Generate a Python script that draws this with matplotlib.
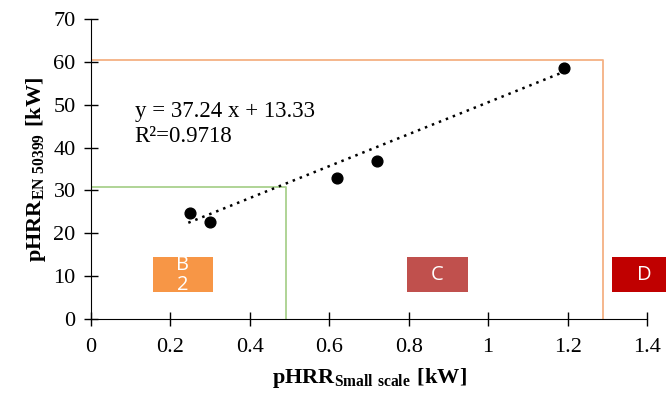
import matplotlib
matplotlib.use("Agg")
import matplotlib.pyplot as plt
from matplotlib.patches import Rectangle
import numpy as np

x_small = [0.25, 0.30, 0.62, 0.72, 1.19]
y_en = [24.8, 22.6, 32.8, 36.8, 58.5]
slope, intercept = 37.24, 13.33
green_limit = (0.49, 30.8)
orange_limit = (1.29, 60.4)
classes = ["B\n2", "C", "D"]
class_x = [0.155, 0.795, 1.312]
class_w = [0.153, 0.155, 0.16]
class_colors = ["#F79646", "#C0504D", "#C00000"]

plt.rcParams['font.family'] = ['Liberation Serif']
plt.rcParams['mathtext.fontset'] = 'custom'
plt.rcParams['mathtext.rm'] = 'Liberation Serif'
plt.rcParams['mathtext.bf'] = 'Liberation Serif:bold'

fig = plt.figure(figsize=(6.66, 3.95), dpi=100)
ax = fig.add_axes([91/666, 1-319/395, (647-91)/666, 300/395])

# limit lines
ax.plot([0, green_limit[0], green_limit[0]], [green_limit[1], green_limit[1], 0],
        color="#A9D18E", lw=1.3)
ax.plot([0, orange_limit[0], orange_limit[0]], [orange_limit[1], orange_limit[1], 0],
        color="#F4B183", lw=1.3)

ax.scatter(x_small, y_en, s=60, color="black", zorder=5)
xt = np.array([min(x_small) - 0.005, max(x_small)])
ax.plot(xt, slope * xt + intercept, color="black", lw=1.8, ls=(0, (1, 2)))

ax.text(0.11, 50.8, "y = 37.24 x + 13.33\nR²=0.9718", fontsize=16.5, va="top",
        linespacing=1.22)

for lab, cx, cw, cc in zip(classes, class_x, class_w, class_colors):
    ax.add_patch(Rectangle((cx, 6.2), cw, 8.3, facecolor=cc, edgecolor="none",
                           clip_on=False, zorder=3))
    ax.text(cx + cw / 2, 10.35, lab, color="white", ha="center", va="center",
            fontsize=14.5, family="Open Sans", linespacing=1.0, zorder=4,
            clip_on=False)

ax.set_xlim(0, 1.4)
ax.set_ylim(0, 70)
ax.set_xticks(np.arange(0, 1.41, 0.2))
ax.set_xticklabels(["0", "0.2", "0.4", "0.6", "0.8", "1", "1.2", "1.4"])
ax.set_yticks(range(0, 71, 10))
ax.tick_params(direction="inout", length=10, width=1, labelsize=16)
ax.tick_params(axis="x", pad=9)
ax.tick_params(axis="y", pad=6)
for s in ["top", "right"]:
    ax.spines[s].set_visible(False)

ax.set_xlabel(r"$\mathbf{pHRR}_{\mathbf{Small\ scale}}\ \mathbf{[kW]}$", fontsize=16, labelpad=6)
ax.set_ylabel(r"$\mathbf{pHRR}_{\mathbf{EN\ 50399}}\ \mathbf{[kW]}$", fontsize=16, labelpad=4)

fig.savefig("out.png", dpi=100)
